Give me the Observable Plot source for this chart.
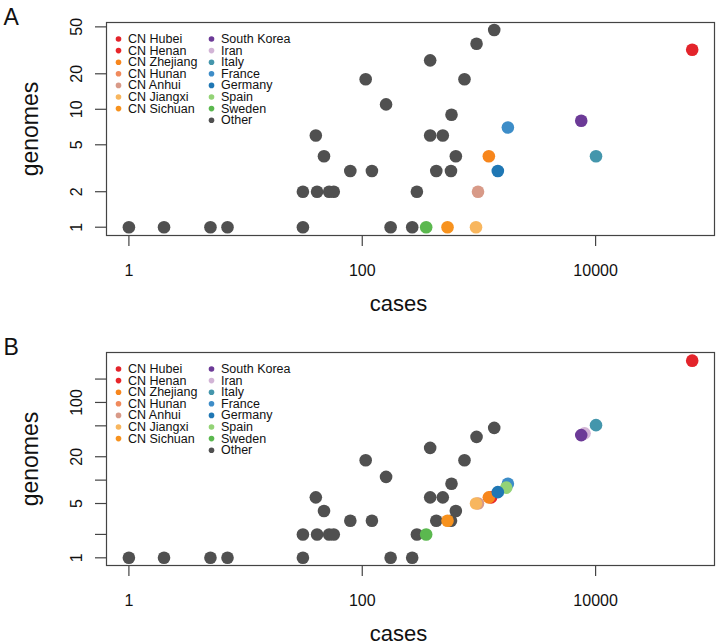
<!DOCTYPE html>
<html><head><meta charset="utf-8">
<script src="https://cdn.jsdelivr.net/npm/d3@7"></script>
<script src="https://cdn.jsdelivr.net/npm/@observablehq/plot@0.6"></script>
<style>body{margin:0;background:#fff;} svg{display:block;} #chart{width:720px;}</style>
</head><body><div id="chart"></div>
<script>
// Legend categories and colours
const regions = ["CN Hubei","CN Henan","CN Zhejiang","CN Hunan","CN Anhui","CN Jiangxi","CN Sichuan",
  "South Korea","Iran","Italy","France","Germany","Spain","Sweden","Other"];
const regionColors = ["#E3242B","#E8262A","#F7861C","#F08A5C","#D89A88","#F8B65E","#F7921E",
  "#6C3A97","#D2B4D6","#4496AC","#3D8DC8","#1F77B4","#93D376","#5BB84F","#505050"];

// "Other" points (same in both panels)
const otherCases   = [1,2,5,7,31,175,268, 31,41,52,57,294, 79,121,431,576, 47,634, 40,382,490, 582, 160, 107,752, 382, 954, 1352];
const otherGenomes = [1,1,1,1,1,1,1,      2,2,2,2,2,       3,3,3,3,         4,4,    6,6,6,      9,   11,  18,18,   26,  36,  47];

// Panel A coloured points
const regionsA = ["CN Hubei","CN Zhejiang","CN Anhui","CN Jiangxi","CN Sichuan","South Korea","Italy","France","Germany","Sweden"];
const casesA   = [67300,1216,982,944,538,7530,10080,1770,1452,353];
const genomesA = [32,4,2,1,1,8,4,7,3,1];

// Panel B coloured points
const regionsB = ["CN Hubei","CN Henan","CN Zhejiang","CN Anhui","CN Jiangxi","CN Sichuan","Iran","South Korea","Italy","France","Spain","Germany","Sweden"];
const casesB   = [67300,1272,1216,982,944,538,8040,7530,10080,1770,1714,1452,353];
const genomesB = [345,6,6,5,5,3,40,38,51,9,8,7,2];

// Axis ticks
const xTicks = [1,100,10000];
const xLabels = ["1","100","10000"];
const yTicksA = [1,2,5,10,20,50];
const yLabelsA = [1,2,5,10,20,50];
const yTicksB = [1,2,5,10,20,50,100,200];
const yLabelsB = [1,5,20,100];

const colorOf = Object.fromEntries(regions.map((r,i)=>[r, regionColors[i]]));
const FONT = "Liberation Sans, Arial, Helvetica, sans-serif";

function panel({letter, height, marginBottom, yDomain, yTicks, yLabels, names, cases, genomes}) {
  const others = otherCases.map((c,i)=>({cases:c, genomes:otherGenomes[i], region:"Other"}));
  const colored = names.map((n,i)=>({cases:cases[i], genomes:genomes[i], region:n}));
  const legendMarks = regions.flatMap((name, i) => {
    const col = i < 7 ? 0 : 1;
    const row = col ? i - 7 : i;
    const dx = col ? 105 : 12;
    const dy = 16.5 + row * 11.6;
    return [
      Plot.dot([name], {frameAnchor:"top-left", dx, dy, r:2.8, fill: colorOf[name]}),
      Plot.text([name], {frameAnchor:"top-left", dx: dx + 9.5, dy, text: d=>d, textAnchor:"start", lineAnchor:"middle", fontSize:12.5, fill:"#111"})
    ];
  });
  return Plot.plot({
    width: 720, height,
    marginLeft: 106, marginRight: 6, marginTop: 22, marginBottom,
    style: {fontFamily: FONT, fontSize: "14px", background: "white", color: "#111"},
    x: {type:"log", domain:[Math.pow(10,-0.192), Math.pow(10,5.019)]},
    y: {type:"log", domain: yDomain},
    marks: [
      Plot.axisX({ticks: xTicks, tickSize: 11, tickFormat: () => "", stroke: "#444", strokeWidth: 1.2, label: null}),
      Plot.axisY({ticks: yTicks, tickSize: 11, tickFormat: () => "", stroke: "#444", strokeWidth: 1.2, label: null}),
      Plot.text(xTicks, {x: d=>d, text: (d,i)=>xLabels[i], frameAnchor:"bottom", dy: 40, lineAnchor:"bottom", fontSize:16, fill:"#111"}),
      Plot.text(yLabels, {y: d=>d, text: d=>String(d), frameAnchor:"left", dx:-25, rotate:-90, textAnchor:"middle", lineAnchor:"bottom", fontSize:16, fill:"#111"}),
      Plot.text(["genomes"], {frameAnchor:"left", dx:-69, rotate:-90, textAnchor:"middle", lineAnchor:"bottom", fontSize:23, fill:"#111"}),
      Plot.text(["cases"], {frameAnchor:"bottom", dx:-12, dy:75, textAnchor:"middle", lineAnchor:"bottom", fontSize:22, fill:"#111"}),
      Plot.text([letter], {frameAnchor:"top-left", dx:-103, dy:2, textAnchor:"start", lineAnchor:"bottom", fontSize:23, fill:"#111"}),
      Plot.dot(others, {x:"cases", y:"genomes", r:6.3, fill: d=>colorOf[d.region]}),
      Plot.dot(colored, {x:"cases", y:"genomes", r:6.3, fill: d=>colorOf[d.region]}),
      Plot.frame({stroke:"#444", strokeWidth:1.2}),
      ...legendMarks
    ]
  });
}

const chart = document.getElementById("chart");
chart.append(panel({letter:"A", height:330, marginBottom:95,
  yDomain:[Math.pow(10,-0.0703), Math.pow(10,1.736)], yTicks:yTicksA, yLabels:yLabelsA,
  names:regionsA, cases:casesA, genomes:genomesA}));
chart.append(panel({letter:"B", height:314, marginBottom:79,
  yDomain:[Math.pow(10,-0.099), Math.pow(10,2.643)], yTicks:yTicksB, yLabels:yLabelsB,
  names:regionsB, cases:casesB, genomes:genomesB}));
</script></body></html>
